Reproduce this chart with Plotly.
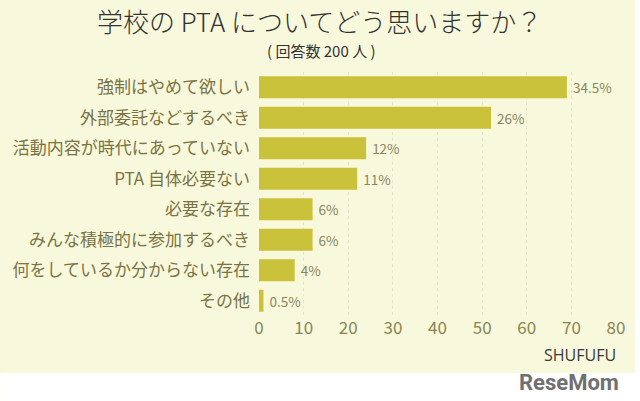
import plotly.graph_objects as go

categories = ["強制はやめて欲しい", "外部委託などするべき", "活動内容が時代にあっていない",
              "PTA 自体必要ない", "必要な存在", "みんな積極的に参加するべき",
              "何をしているか分からない存在", "その他"]
counts = [69, 52, 24, 22, 12, 12, 8, 1]          # respondents (of 200)
value_labels = ["34.5%", "26%", "12%", "11%", "6%", "6%", "4%", "0.5%"]
x_ticks = [0, 10, 20, 30, 40, 50, 60, 70, 80]

W, H = 640, 401
L, R, T, B = 256, 24, 72, 85
pw, ph = W - L - R, H - T - B

def px_x(p):
    return (p - L) / pw

def px_y(p):
    return (H - B - p) / ph

JP = "Noto Sans CJK JP"
OLIVE = "#7a7443"
CREAM = "#f8f8dc"

fig = go.Figure(go.Bar(
    y=categories, x=counts, orientation="h",
    marker=dict(color="#c9c23a", line=dict(width=0)),
    width=0.72,
    text=value_labels, texttemplate=" %{text}",
    textposition="outside", cliponaxis=False,
    textfont=dict(family=JP, size=13.5, color="#8a8660"),
))

fig.update_layout(
    width=W, height=H,
    margin=dict(l=L, r=R, t=T, b=B),
    paper_bgcolor=CREAM,
    plot_bgcolor="rgba(0,0,0,0)",
    showlegend=False,
    shapes=[
        dict(type="rect", xref="paper", yref="paper", layer="below",
             x0=px_x(-5), x1=px_x(650), y0=px_y(410), y1=px_y(373),
             fillcolor="white", line=dict(width=0)),
        dict(type="rect", xref="paper", yref="paper", layer="below",
             x0=px_x(635), x1=px_x(650), y0=px_y(410), y1=px_y(-5),
             fillcolor="white", line=dict(width=0)),
    ],
    xaxis=dict(range=[0, 80], tickvals=x_ticks, showgrid=True,
               gridcolor="#e4e4c8", griddash="3px,3px", gridwidth=1,
               zeroline=False, showline=False, ticks="",
               tickfont=dict(family=JP, size=17, color="#8a8550")),
    yaxis=dict(autorange="reversed", showgrid=False, zeroline=False,
               showline=False, ticks="", ticklabelstandoff=8,
               tickfont=dict(family=JP, size=17, color=OLIVE)),
    annotations=[
        dict(text="学校の PTA についてどう思いますか？", xref="paper", yref="paper",
             x=px_x(317), y=px_y(21), xanchor="center", yanchor="middle",
             showarrow=False, font=dict(family=JP, size=26, color="#333333", weight=300)),
        dict(text="( 回答数 200 人 )", xref="paper", yref="paper",
             x=px_x(319), y=px_y(50), xanchor="center", yanchor="middle",
             showarrow=False, font=dict(family=JP, size=15, color="#333333")),
        dict(text="SHUFUFU", xref="paper", yref="paper",
             x=px_x(618), y=px_y(355), xanchor="right", yanchor="middle",
             showarrow=False, font=dict(family="Open Sans", size=16, color="#3a3a3a")),
        dict(text="<b>ReseMom</b>", xref="paper", yref="paper",
             x=px_x(621), y=px_y(382), xanchor="right", yanchor="middle",
             showarrow=False, font=dict(family="Roboto", size=22, color="#707070")),
    ],
)

fig.write_html("out.html", config={"displayModeBar": False},
               post_script="document.body.style.margin='0';")
